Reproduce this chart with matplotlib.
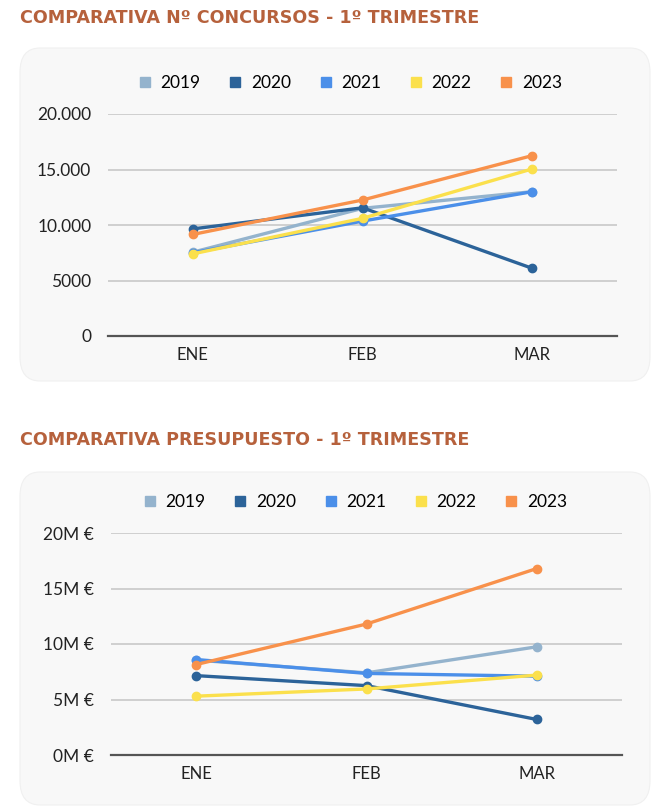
import matplotlib
matplotlib.use("Agg")
import matplotlib.pyplot as plt
from matplotlib.patches import FancyBboxPatch
from matplotlib.lines import Line2D

# datos
meses = ["ENE", "FEB", "MAR"]
anios = ["2019", "2020", "2021", "2022", "2023"]
colores = ["#94b3cd", "#2c6399", "#4b8fe9", "#fbe04c", "#f8914b"]

concursos_2019 = [7550, 11500, 13000]
concursos_2020 = [9650, 11550, 6100]
concursos_2021 = [7500, 10350, 13000]
concursos_2022 = [7400, 10600, 15050]
concursos_2023 = [9150, 12250, 16250]
ticks_concursos = [0, 5000, 10000, 15000, 20000]
labels_concursos = ["0", "5000", "10.000", "15.000", "20.000"]

presupuesto_2019 = [8.55, 7.4, 9.75]
presupuesto_2020 = [7.15, 6.25, 3.2]
presupuesto_2021 = [8.6, 7.35, 7.1]
presupuesto_2022 = [5.3, 5.95, 7.2]
presupuesto_2023 = [8.15, 11.8, 16.8]
ticks_presupuesto = [0, 5, 10, 15, 20]
labels_presupuesto = ["0M €", "5M €", "10M €", "15M €", "20M €"]

W, H = 669, 807
fig = plt.figure(figsize=(W / 100, H / 100), dpi=100)
fig.patch.set_facecolor("white")

TITLE_COLOR = "#b6613c"
TXT = "#222222"
FONT = ["Lato", "DejaVu Sans"]


def px_axes(l, t, r, b):
    ax = fig.add_axes([l / W, 1 - b / H, (r - l) / W, (b - t) / H])
    ax.set_zorder(2)
    return ax


def panel(l, t, r, b):
    p = FancyBboxPatch((l / W, 1 - b / H), (r - l) / W, (b - t) / H,
                       boxstyle="round,pad=0,rounding_size=0.03",
                       transform=fig.transFigure, facecolor="#f8f8f8",
                       edgecolor="#f0f0f0", linewidth=0.8, zorder=-1)
    fig.patches.append(p)


def dibujar(ax, series, ticks, labels, leg_y, leg_x):
    x = range(len(meses))
    for s, c in zip(series, colores):
        ax.plot(x, s, color=c, lw=2.4, marker="o", ms=6, solid_capstyle="round",
                zorder=3)
    ax.set_xlim(-0.5, 2.5)
    ax.set_ylim(0, ticks[-1])
    ax.set_yticks(ticks)
    ax.set_yticklabels(labels, family=FONT, fontsize=12.5, color=TXT)
    ax.set_xticks(list(x))
    ax.set_xticklabels(meses, family=FONT, fontsize=12, color=TXT)
    ax.tick_params(length=0, pad=8)
    ax.tick_params(axis="y", pad=12)
    ax.set_facecolor("none")
    for sp in ["top", "left", "right"]:
        ax.spines[sp].set_visible(False)
    ax.spines["bottom"].set_color("#555555")
    ax.spines["bottom"].set_linewidth(1.6)
    ax.grid(axis="y", color="#c4c4c4", lw=1.1)
    ax.set_axisbelow(True)
    handles = [Line2D([], [], marker="s", ls="none", color=c, ms=7) for c in colores]
    fig.legend(handles, anios, loc="center", ncol=5, frameon=False,
               bbox_to_anchor=(leg_x / W, 1 - leg_y / H),
               prop={"family": FONT, "size": 12.5}, handletextpad=0.4,
               columnspacing=1.5, handlelength=1.0)


# grafico 1
fig.text(20 / W, 1 - 18 / H, "COMPARATIVA Nº CONCURSOS - 1º TRIMESTRE",
         color=TITLE_COLOR, fontsize=12.6, fontweight="bold", family="DejaVu Sans",
         va="center", ha="left")
panel(20, 48, 650, 381)
ax1 = px_axes(108, 114, 617, 336)
dibujar(ax1, [concursos_2019, concursos_2020, concursos_2021, concursos_2022,
              concursos_2023], ticks_concursos, labels_concursos, 83, 349)

# grafico 2
fig.text(20 / W, 1 - 440 / H, "COMPARATIVA PRESUPUESTO - 1º TRIMESTRE",
         color=TITLE_COLOR, fontsize=12.6, fontweight="bold", family="DejaVu Sans",
         va="center", ha="left")
panel(20, 472, 650, 805)
ax2 = px_axes(111, 533, 622, 755)
dibujar(ax2, [presupuesto_2019, presupuesto_2020, presupuesto_2021,
              presupuesto_2022, presupuesto_2023], ticks_presupuesto,
        labels_presupuesto, 502, 354)

fig.savefig("out.png", dpi=100)
